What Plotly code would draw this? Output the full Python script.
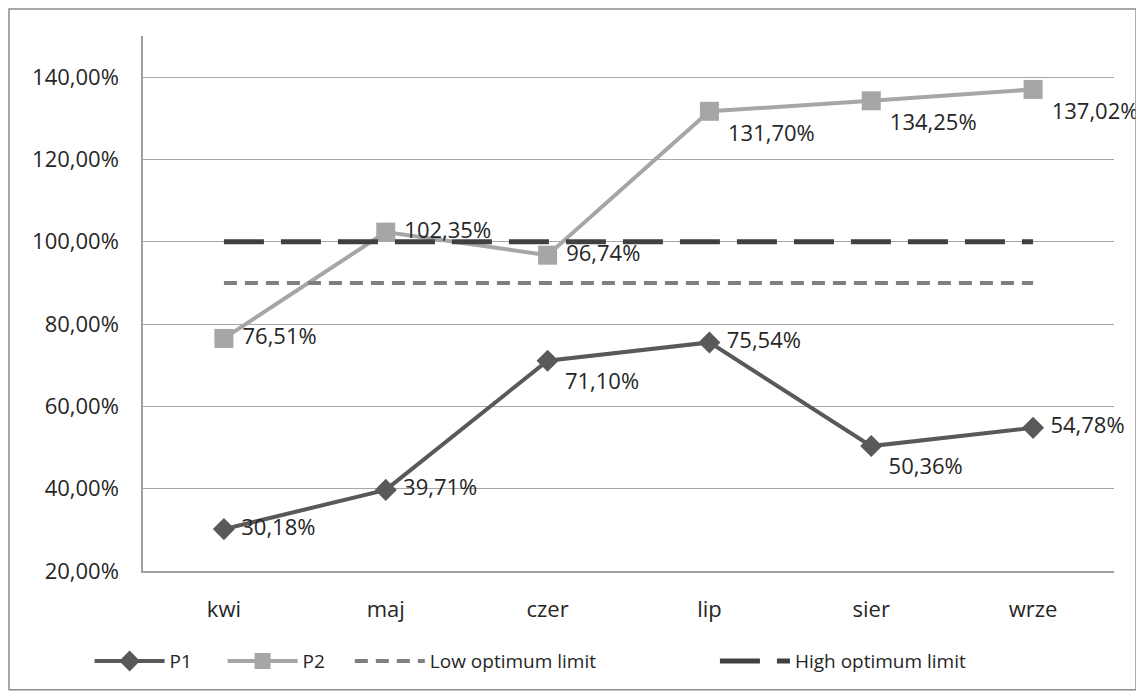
import plotly.graph_objects as go

months = ["kwi", "maj", "czer", "lip", "sier", "wrze"]
p1 = [30.18, 39.71, 71.10, 75.54, 50.36, 54.78]
p2 = [76.51, 102.35, 96.74, 131.70, 134.25, 137.02]
low_limit = [90, 90, 90, 90, 90, 90]
high_limit = [100, 100, 100, 100, 100, 100]
y_ticks = [20, 40, 60, 80, 100, 120, 140]

p1_pos = ["middle right", "middle right", "bottom right", "middle right", "bottom right", "middle right"]
p2_pos = ["middle right", "middle right", "middle right", "bottom right", "bottom right", "bottom right"]

font = "Open Sans"


def pct(v):
    return " " + f"{v:.2f}%".replace(".", ",")


fig = go.Figure()
fig.add_trace(go.Scatter(
    x=months, y=p1, name="P1", mode="lines+markers+text",
    line=dict(color="#595959", width=4),
    marker=dict(symbol="diamond", size=17, color="#595959"),
    text=[pct(v) for v in p1], cliponaxis=False,
    textposition=p1_pos, textfont=dict(size=22, color="#262626"),
))
fig.add_trace(go.Scatter(
    x=months, y=p2, name="P2", mode="lines+markers+text",
    line=dict(color="#a6a6a6", width=4),
    marker=dict(symbol="square", size=19, color="#a6a6a6"),
    text=[pct(v) for v in p2], cliponaxis=False,
    textposition=p2_pos, textfont=dict(size=22, color="#262626"),
))
fig.add_trace(go.Scatter(
    x=months, y=low_limit, name="Low optimum limit", mode="lines",
    line=dict(color="#7f7f7f", width=4, dash="13px,8px"),
    legend="legend3",
))
fig.add_trace(go.Scatter(
    x=months, y=high_limit, name="High optimum limit", mode="lines",
    line=dict(color="#404040", width=5, dash="40px,17px"),
    legend="legend2",
))

# page body adds an 8px offset, so the figure is drawn 8px smaller
leg = dict(orientation="h", xanchor="left", y=-0.133, yanchor="top",
           font=dict(size=19), itemwidth=70)
fig.update_layout(
    width=1136, height=692,
    margin=dict(l=135, r=30, t=28, b=129),
    paper_bgcolor="white", plot_bgcolor="white",
    font=dict(family=font, size=22, color="#262626"),
    showlegend=True,
    legend=dict(leg, x=-0.055, entrywidth=48),
    legend3=dict(leg, x=0.213),
    legend2=dict(leg, x=0.589),
    shapes=[dict(type="rect", xref="paper", yref="paper",
                 x0=-0.138, x1=1.0227, y0=-0.222, y1=1.0505,
                 line=dict(color="#8c8c8c", width=1.5))],
)
fig.update_xaxes(
    range=[-0.5, 5.5], showgrid=False, showline=True, linecolor="#a0a0a0",
    linewidth=1.5, ticks="", ticklabelstandoff=18,
)
fig.update_yaxes(
    range=[20, 150], tickvals=y_ticks, ticktext=[f"{v},00%" for v in y_ticks],
    showgrid=True, gridcolor="#a6a6a6", gridwidth=1,
    showline=True, linecolor="#a0a0a0", linewidth=1.5, zeroline=False,
    ticks="", ticklabelstandoff=18,
)

fig.write_html("out.html")
